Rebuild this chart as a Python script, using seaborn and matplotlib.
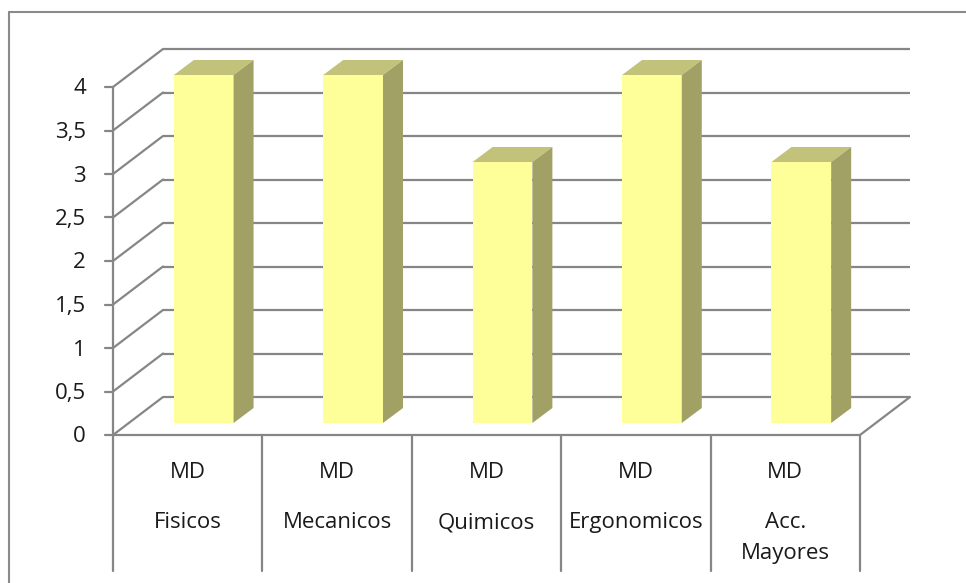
import matplotlib
matplotlib.use("Agg")
import matplotlib.pyplot as plt
from matplotlib.patches import Polygon
from matplotlib.lines import Line2D
import seaborn as sns
import pandas as pd

# Chart data
categories = ["Fisicos", "Mecanicos", "Quimicos", "Ergonomicos", "Acc.\nMayores"]
prefix = "MD"
values = [4, 4, 3, 4, 3]
y_ticks = [0, 0.5, 1, 1.5, 2, 2.5, 3, 3.5, 4]
y_tick_labels = ["0", "0,5", "1", "1,5", "2", "2,5", "3", "3,5", "4"]

FRONT = "#FFFF99"
TOP = "#C2C27A"
SIDE = "#A1A165"
GRID = "#868686"
TEXT = "#1a1a1a"
FS = 16

W, H, DPI = 966, 583, 100
sns.set_theme(style="white")
plt.rcParams["font.family"] = ["Open Sans", "DejaVu Sans"]

fig = plt.figure(figsize=(W / DPI, H / DPI), dpi=DPI)
fig.patch.set_facecolor("white")

# Axes spans the plane on which the bar fronts sit (pixel box)
px0, px1 = 129, 876
py0, py1 = 423, 75
ax = fig.add_axes([px0 / W, 1 - py0 / H, (px1 - px0) / W, (py0 - py1) / H])

df = pd.DataFrame({"cat": categories, "val": values})
sns.barplot(data=df, x="cat", y="val", width=0.4, color=FRONT, saturation=1,
            linewidth=0, ax=ax, zorder=3)
ax.set_xlim(-0.5, 4.5)
ax.set_ylim(0, 4)
ax.axis("off")

# pixels per data unit
sx = (px1 - px0) / 5.0
sy = (py0 - py1) / 4.0

# depth offsets (data units): front wall edge, back wall, bar depth
fdx, fdy = -16 / sx, -12 / sy
bdx, bdy = 34 / sx, 26 / sy
ddx, ddy = 20 / sx, 15 / sy

lw = 1.6
xl, xr = -0.5, 4.5

# back wall gridlines and left side wall diagonals
for v, lab in zip(y_ticks, y_tick_labels):
    ax.plot([xl + bdx, xr + bdx], [v + bdy, v + bdy], color=GRID, lw=lw,
            clip_on=False, zorder=1, solid_capstyle="butt")
    ax.plot([xl + fdx, xl + bdx], [v + fdy, v + bdy], color=GRID, lw=lw,
            clip_on=False, zorder=1)
    # tick marks on the front vertical axis
    ax.plot([xl + fdx - 8 / sx, xl + fdx], [v + fdy, v + fdy], color=GRID,
            lw=lw, clip_on=False, zorder=1)
    ax.text(xl + fdx - 27 / sx, v + fdy - 2 / sy, lab,
            ha="right", va="center", fontsize=FS, color=TEXT)

# front vertical axis
ax.plot([xl + fdx, xl + fdx], [fdy, 4 + fdy], color=GRID, lw=lw,
        clip_on=False, zorder=1)
# floor front edge and right diagonal
ax.plot([xl + fdx, xr + fdx], [fdy, fdy], color=GRID, lw=lw,
        clip_on=False, zorder=1)
ax.plot([xr + fdx, xr + bdx], [fdy, bdy], color=GRID, lw=lw,
        clip_on=False, zorder=1)

# category separators and labels below the floor
div_bottom = fdy - 136 / sy
for i in range(len(categories) + 1):
    x = xl + i + fdx
    ax.plot([x, x], [fdy, div_bottom], color=GRID, lw=lw, clip_on=False,
            zorder=1)
for i, name in enumerate(categories):
    cx = i + fdx
    ax.text(cx, fdy - 43 / sy, prefix, ha="center", va="baseline",
            fontsize=FS, color=TEXT)
    for k, line in enumerate(name.split("\n")):
        ax.text(cx, fdy - (93 + 31 * k) / sy, line, ha="center",
                va="baseline", fontsize=FS, color=TEXT)

# side and top faces of each bar
for p in ax.patches:
    x = p.get_x()
    w = p.get_width()
    h = p.get_height()
    top = Polygon([(x, h), (x + w, h), (x + w + ddx, h + ddy), (x + ddx, h + ddy)],
                  closed=True, facecolor=TOP, edgecolor="none", zorder=3,
                  clip_on=False)
    side = Polygon([(x + w, 0), (x + w, h), (x + w + ddx, h + ddy), (x + w + ddx, ddy)],
                   closed=True, facecolor=SIDE, edgecolor="none", zorder=3,
                   clip_on=False)
    ax.add_patch(top)
    ax.add_patch(side)

# chart area border
fig.add_artist(Line2D([9 / W, 9 / W], [0, 1 - 12 / H], color="#8a8a8a", lw=1.5,
                      transform=fig.transFigure))
fig.add_artist(Line2D([9 / W, 1], [1 - 12 / H, 1 - 12 / H], color="#8a8a8a",
                      lw=1.5, transform=fig.transFigure))

fig.savefig("out.png", dpi=DPI, facecolor="white")
